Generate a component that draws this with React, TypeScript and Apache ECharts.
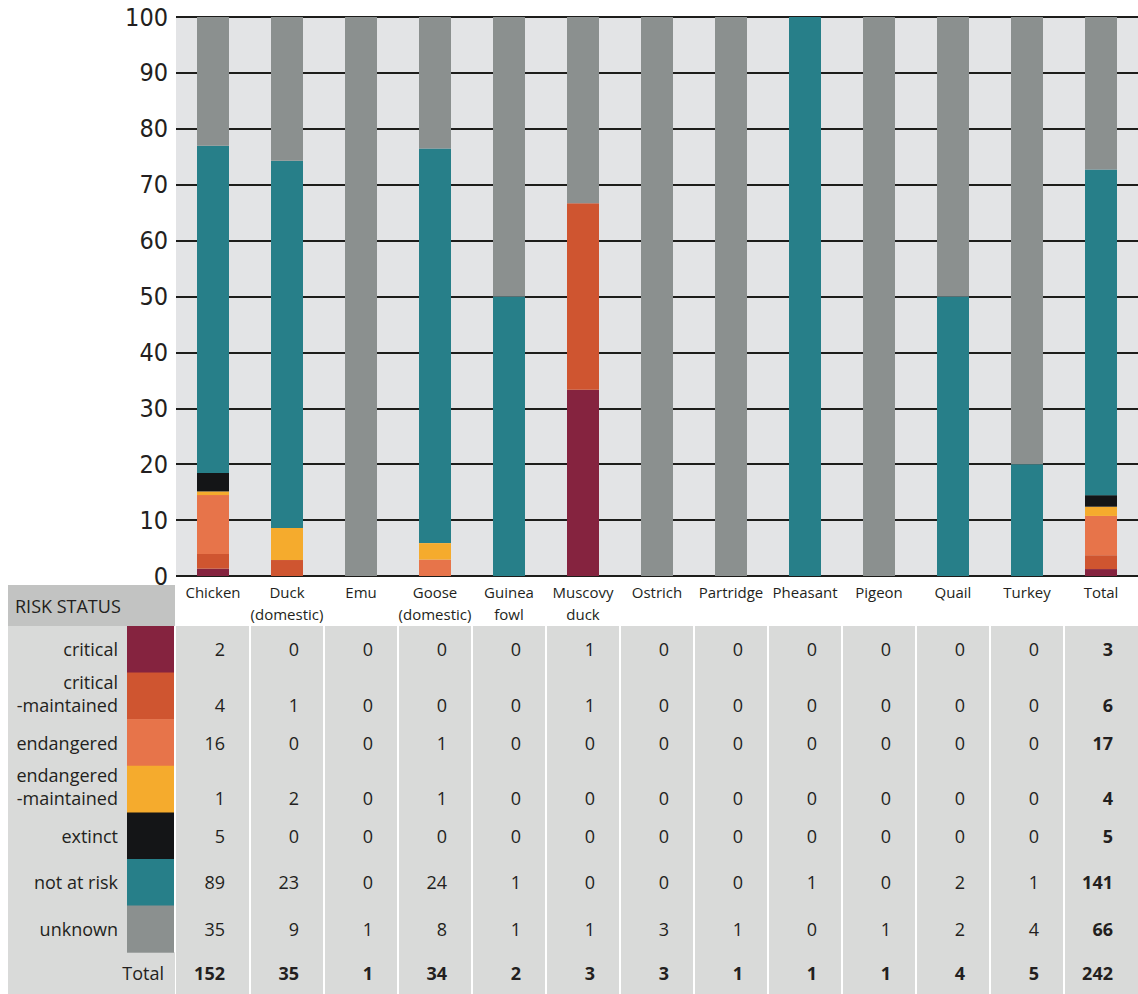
import React, { useEffect, useRef } from "react";
import * as echarts from "echarts";

const categories = [
  "Chicken",
  "Duck\n(domestic)",
  "Emu",
  "Goose\n(domestic)",
  "Guinea\nfowl",
  "Muscovy\nduck",
  "Ostrich",
  "Partridge",
  "Pheasant",
  "Pigeon",
  "Quail",
  "Turkey",
  "Total",
];

const statusNames = [
  "critical",
  "critical\n-maintained",
  "endangered",
  "endangered\n-maintained",
  "extinct",
  "not at risk",
  "unknown",
];

const statusColors = ["#85233f", "#cf5530", "#e7744a", "#f5ab2d", "#141517", "#277f89", "#8b908f"];

const critical = [2, 0, 0, 0, 0, 1, 0, 0, 0, 0, 0, 0, 3];
const criticalMaintained = [4, 1, 0, 0, 0, 1, 0, 0, 0, 0, 0, 0, 6];
const endangered = [16, 0, 0, 1, 0, 0, 0, 0, 0, 0, 0, 0, 17];
const endangeredMaintained = [1, 2, 0, 1, 0, 0, 0, 0, 0, 0, 0, 0, 4];
const extinct = [5, 0, 0, 0, 0, 0, 0, 0, 0, 0, 0, 0, 5];
const notAtRisk = [89, 23, 0, 24, 1, 0, 0, 0, 1, 0, 2, 1, 141];
const unknown = [35, 9, 1, 8, 1, 1, 3, 1, 0, 1, 2, 4, 66];

const statusCounts = [critical, criticalMaintained, endangered, endangeredMaintained, extinct, notAtRisk, unknown];

const yMin = 0;
const yMax = 100;
const yInterval = 10;

const TEXT = "#231f20";
const TABLE_FONT = "'Open Sans', 'Noto Sans', sans-serif";
const AXIS_FONT = "'Liberation Sans Narrow', 'DejaVu Sans Condensed', 'Roboto Condensed', sans-serif";

export default function App() {
  const ref = useRef<HTMLDivElement>(null);

  useEffect(() => {
    if (!ref.current) return;
    const chart = echarts.init(ref.current, null, { renderer: "svg" });

    const totals = categories.map((_, c) => statusCounts.reduce((s, arr) => s + arr[c], 0));
    const pct = statusCounts.map((arr) => arr.map((v, c) => (totals[c] ? (v / totals[c]) * 100 : 0)));

    chart.setOption({
      animation: false,
      grid: {
        left: 176,
        top: 17,
        width: 966,
        height: 559,
        show: true,
        backgroundColor: "#e3e4e6",
        borderWidth: 0,
      },
      xAxis: {
        type: "category",
        data: categories,
        axisLine: { show: false },
        axisTick: { show: false },
        axisLabel: {
          interval: 0,
          margin: 5,
          fontSize: 15,
          lineHeight: 22,
          color: TEXT,
          fontFamily: TABLE_FONT,
          verticalAlign: "top",
        },
      },
      yAxis: {
        type: "value",
        min: yMin,
        max: yMax,
        interval: yInterval,
        axisLine: { show: false },
        axisTick: { show: false },
        axisLabel: { fontSize: 25, color: TEXT, margin: 8, fontFamily: AXIS_FONT },
        splitLine: { show: true, lineStyle: { color: "#1d1d1b", width: 2 } },
      },
      series: statusNames.map((name, i) => ({
        name,
        type: "bar",
        stack: "total",
        barWidth: 32,
        itemStyle: { color: statusColors[i] },
        data: pct[i],
      })),
    });

    const xs = categories.map((_, i) => chart.convertToPixel({ xAxisIndex: 0 }, i) as number);
    const bw = xs[1] - xs[0];

    const tableTop = 626;
    const tableBottom = 994;
    const rowH = 46.6;
    const nRows = statusNames.length;
    const totalTop = tableTop + nRows * rowH;

    const g: any[] = [];
    // header "RISK STATUS"
    g.push({ type: "rect", silent: true, shape: { x: 8, y: 585, width: 167, height: 41 }, style: { fill: "#c2c3c2" } });
    g.push({
      type: "text", silent: true, x: 15, y: 606, z: 10,
      style: { text: "RISK STATUS", fill: TEXT, fontSize: 18, fontFamily: TABLE_FONT, align: "left", verticalAlign: "middle" },
    });
    // label panel
    g.push({ type: "rect", silent: true, shape: { x: 8, y: tableTop, width: 119, height: tableBottom - tableTop }, style: { fill: "#d9dad9" } });
    g.push({ type: "rect", silent: true, shape: { x: 8, y: totalTop, width: 167, height: tableBottom - totalTop }, style: { fill: "#d9dad9" } });
    // data panel
    g.push({ type: "rect", silent: true, shape: { x: 176, y: tableTop, width: 962, height: tableBottom - tableTop }, style: { fill: "#d9dad9" } });
    // column separators
    for (let c = 0; c < categories.length - 1; c++) {
      const xb = Math.round(xs[c] + bw / 2);
      g.push({ type: "line", silent: true, z: 5, shape: { x1: xb, y1: tableTop, x2: xb, y2: tableBottom }, style: { stroke: "#ffffff", lineWidth: 2 } });
    }

    const numX = (c: number) => xs[c] + 12;

    statusNames.map((name, r) => {
      const top = tableTop + r * rowH;
      const center = top + rowH / 2;
      g.push({ type: "rect", silent: true, z: 3, shape: { x: 127, y: top, width: 47, height: rowH + 0.5 }, style: { fill: statusColors[r] } });
      const lines = name.split("\n");
      const lastY = lines.length > 1 ? center + 9 : center;
      lines.map((ln, k) => {
        g.push({
          type: "text", silent: true, z: 10, x: 118, y: lastY - (lines.length - 1 - k) * 23,
          style: { text: ln, fill: TEXT, fontSize: 18, fontFamily: TABLE_FONT, align: "right", verticalAlign: "middle" },
        });
      });
      statusCounts[r].map((v, c) => {
        g.push({
          type: "text", silent: true, z: 10, x: numX(c), y: lastY,
          style: {
            text: String(v), fill: TEXT, fontSize: 18, fontFamily: TABLE_FONT,
            fontWeight: c === categories.length - 1 ? "bold" : "normal", align: "right", verticalAlign: "middle",
          },
        });
      });
    });

    const totalCenter = (totalTop + tableBottom) / 2;
    g.push({
      type: "text", silent: true, z: 10, x: 164, y: totalCenter,
      style: { text: "Total", fill: TEXT, fontSize: 18, fontFamily: TABLE_FONT, align: "right", verticalAlign: "middle" },
    });
    totals.map((t, c) => {
      g.push({
        type: "text", silent: true, z: 10, x: numX(c), y: totalCenter,
        style: { text: String(t), fill: TEXT, fontSize: 18, fontFamily: TABLE_FONT, fontWeight: "bold", align: "right", verticalAlign: "middle" },
      });
    });

    chart.setOption({ graphic: g });

    return () => chart.dispose();
  }, []);

  return <div ref={ref} style={{ position: "absolute", left: 0, top: 0, width: 1138, height: 994 }} />;
}
